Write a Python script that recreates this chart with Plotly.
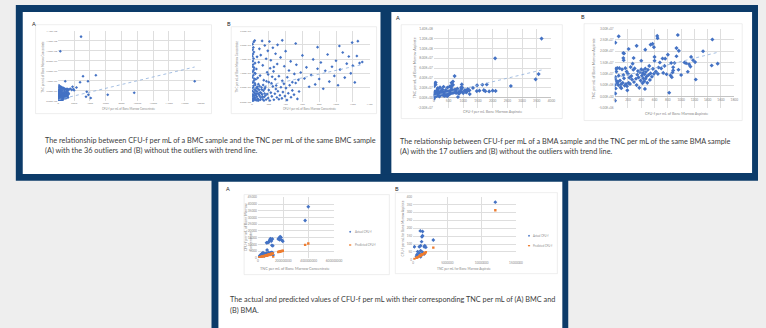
import plotly.graph_objects as go

# ---------------- DATA ----------------
# Figure 1(B): BMC without outliers (CFU-f per mL, TNC per mL in millions)
bmc_clean_cfu = [8,14,20,24,32,36,44,48,56,60,68,74,80,84,92,98,104,112,120,128,136,144,152,160,
 6,12,18,28,38,52,64,76,10,22,34,46,4,16,26,40,8,20,30,6,14,24,10,18,4,12,22,8,16,6,20,32,
 36,52,60,68,80,88,96,104,120,128,140,152,168,180,188,200,208,224,240,248,260,280,288,304,
 168,180,192,200,212,224,236,248,260,272,284,296,308,320,332,344,356,368,380,392,404,416,432,448,464,480,500,520,540,560,
 172,192,216,232,256,276,300,320,340,360,384,400,420,440,460,480,504,528,552,580,600,624,648,680,704,728,752,780,800,
 820,848,872,900,920,952,980,1000,1024,1048,1080,1104,1128,1152,1176,1200,1224,1248,1280,1312,1040,1192,780,520,360,1260,
 2,5,11,17,23,29,35,42,50,58,66,72,82,90,100,108,116,124,132,142,150,158]
bmc_clean_tnc_m = [0.5,1.2,0.8,2.1,1.5,3.0,0.9,2.4,1.8,3.6,1.1,2.9,0.6,4.2,2.0,3.3,1.4,5.0,2.6,0.9,3.9,1.7,4.6,2.2,
 3.8,4.9,5.6,4.4,5.9,4.8,5.3,6.2,6.8,7.4,6.5,7.9,8.6,9.3,8.1,9.9,10.6,11.2,10.1,12.4,13.1,12.0,14.3,15.2,16.0,16.8,17.5,18.3,19.1,20.2,21.0,21.5,
 13.6,11.5,15.8,8.4,13.9,18.6,9.2,16.4,21.4,12.8,7.6,19.8,15.1,10.4,17.9,6.9,21.2,14.6,8.8,19.0,12.2,16.9,5.7,20.0,
 0.8,2.7,1.3,4.1,0.4,3.2,1.9,5.4,0.7,2.8,4.5,1.5,3.7,0.9,2.3,5.1,1.2,3.4,6.3,2.0,4.8,0.6,3.0,5.8,1.6,4.0,2.5,6.6,1.0,3.6,
 7.2,9.6,11.8,6.5,10.7,7.9,13.3,9.0,15.6,7.4,12.5,17.8,8.6,11.0,14.2,6.9,9.8,13.0,7.7,10.3,16.3,8.2,12.1,5.3,9.4,14.9,6.1,11.6,8.0,
 13.8,4.6,10.9,16.6,7.1,12.3,9.1,14.4,5.8,11.3,17.3,8.5,13.4,15.9,10.0,12.7,6.8,16.1,13.6,14.0,19.6,20.8,19.2,20.5,21.6,21.3,
 0.3,1.9,2.6,0.4,3.4,0.9,2.3,4.0,0.5,2.9,4.7,0.3,2.5,5.5,0.7,3.1,4.3,1.8,5.9,0.4,2.9,5.2]
# the 36 BMC outliers (added in figure 1(A))
bmc_out_cfu = [2875,250,875,2750,3125,3750,4750,3600,6250,9600,17250,2000,
 30,70,110,160,210,260,320,380,450,520,600,700,800,950,1100,1300,1500,1700,1900,3500,3800,4100,2300,1800]
bmc_out_tnc_m = [128,99,39,37,49,39,51,18,12,16,39,21,
 27,31,25.8,29.5,26.2,28.1,25.5,27.4,26.0,24.8,25.9,23.5,24.2,22.8,23.9,22.5,24.1,21.8,23.0,8.0,12.0,5.5,26.5,28.0]

# Figure 2(B): BMA without outliers
bma_clean_cfu = [10,60,130,140,210,330,460,540,570,640,645,950,1470,930,965,1330,1075,1120,1550,1460,1220,820,5,
 130,135,285,720,760,800,930,850,400,590,600,660,880,880,870,780,700,
 0,8,15,0,5,10,20,25,30,35,40,50,55,60,70,80,90,95,100,
 110,120,130,140,150,160,170,180,185,190,200,210,220,230,240,250,260,270,280,290,300,
 320,330,340,350,360,370,380,390,400,410,420,425,430,440,445,450,455,460,465,470,480,490,500,510,520,530,540,560,575,590,600,
 620,650,680,730,750,840,860,900,960,1000,1050,1100,1140,1150,1180,1210]
bma_clean_tnc_m = [23.8,26.6,19.2,19.0,21.0,22.4,20.7,22.9,23.3,26.8,25.8,27.2,25.2,21.4,20.2,20.0,14.7,14.2,14.5,13.7,7.5,1.6,-1.9,
 17.0,16.0,17.0,16.8,16.7,18.5,17.8,14.8,15.8,21.8,17.5,12.8,12.9,11.5,10.6,9.8,12.4,
 1.5,1.2,3.5,5.0,7.8,8.6,12.3,11.0,6.8,5.9,12.6,6.5,5.0,9.2,12.5,7.0,4.0,5.4,3.6,
 12.0,6.0,9.5,8.0,4.8,12.5,5.5,11.0,4.5,2.7,10.0,6.0,8.3,5.5,13.0,9.0,7.5,14.5,11.8,6.4,12.4,
 7.8,5.0,9.6,11.2,8.4,3.8,10.7,7.0,12.0,9.2,5.9,10.3,8.0,11.5,6.7,9.8,3.3,12.3,7.8,10.9,8.8,6.0,11.8,9.5,13.5,7.3,10.2,8.7,12.2,10.0,15.8,
 11.0,10.0,15.0,10.4,13.5,9.3,8.5,14.8,11.8,9.5,15.0,10.9,13.2,17.5,16.0,15.2]
# the 17 BMA outliers (added in figure 2(A))
bma_out_cfu = [3664,2084,3563,3462,2620,706,1800,2100,1880,1700,1650,1750,30,60,600,650,2000]
bma_out_tnc_m = [120,80,48,37.5,24,44,27,14,13,15.5,26.5,13.5,29.5,31,30.5,33,14.5]

# Linear trend lines (intercept, slope)
bmc_all_trend = (2.2e6, 3782)
bmc_clean_trend = (4.5e6, 6535)
bma_all_trend = (4.0e6, 14285)
bma_clean_trend = (8.1e6, 7365)

# Figure 3(A): BMC actual vs predicted CFU-f (TNC per mL in millions)
bmc_p_tnc_m = [10,15,20,25,30,35,40,45,50,55,60,65,70,72,75,80,85,90,95,100,105,110,115,120,
 68,78,86,92,96,100,106,110,114,117,
 160,168,172,175,182,188,196, 372,397]
bmc_actual_cfu = [800,1500,2200,600,3000,1800,3800,2500,1200,3200,2800,2000,3500,5800,2600,3300,4000,3000,2400,3600,4100,3000,3800,2200,
 11200,11300,11800,12900,13800,14300,12500,9300,14000,9000,
 14000,14800,13500,15800,15200,13200,12300, 27800,38000]
bmc_pred_cfu = [270,400,540,680,810,950,1080,1220,1350,1490,1620,1760,1890,1940,2030,2160,2300,2430,2570,2700,2840,2970,3110,450,
 1840,2110,2320,2480,2590,2700,2860,2970,3080,3160,
 4320,4540,4640,4730,4910,5080,5290, 9600,10700]

# Figure 3(B): BMA actual vs predicted CFU-f
bma_p_tnc_m = [0.19,0.48,0.57,0.67,0.9,0.9,1.05,1.05,1.1,1.1,1.1,1.24,1.29,1.38,1.38,1.38,1.62,1.62,1.71,1.86,2.95,12.0]
bma_actual_cfu = [83,23,34,52,83,42,183,34,89,58,19,115,146,179,152,48,83,37,89,79,125,365]
bma_pred_cfu = [5,12,15,17,23,23,27,27,29,29,29,32,34,36,36,36,42,42,44,48,77,314]

# Tick values
t1a_x = [0,2000,4000,6000,8000,10000,12000,14000,16000,18000]
t1a_y = [0,2e7,4e7,6e7,8e7,1e8,1.2e8,1.4e8]
t1b_x = [0,200,400,600,800,1000,1200,1400]
t1b_y = [0,5e6,1e7,1.5e7,2e7,2.5e7]
t2a_x = [0,500,1000,1500,2000,2500,3000,3500,4000]
t2a_y = [-2e7,0,2e7,4e7,6e7,8e7,1e8,1.2e8,1.4e8]
t2b_x = [0,200,400,600,800,1000,1200,1400,1600,1800]
t2b_y = [-5e6,0,5e6,1e7,1.5e7,2e7,2.5e7,3e7]
t3a_x = [0,200000000,400000000,600000000]
t3a_y = [0,5000,10000,15000,20000,25000,30000,35000,40000,45000]
t3b_x = [0,5000000,10000000,15000000]
t3b_y = [0,50,100,150,200,250,300,350,400]

# ---------------- STYLE ----------------
W, H = 766, 328
NAVY = "#0c3b69"
BLUE = "#4472C4"
ORANGE = "#ED7D31"
TREND = "#8fb0dc"
GRID = "#dedede"
TICK = "#8a8a8a"
FONT = "Lato"

def fx(px):
    return px / W

def fy(py):
    return 1 - py / H

def sci(v):
    return f"{v:.2E}"

def m(vals):
    return [v * 1e6 for v in vals]

fig = go.Figure()

panels = [
    dict(xd=(58, 202), yd=(29, 100), xr=[0, 18000], xt=t1a_x, xtt=[str(v) for v in t1a_x],
         yr=[0, 1.4e8], yt=t1a_y, ytt=[sci(v) for v in t1a_y], fs=2.6),
    dict(xd=(254, 373), yd=(29, 101), xr=[0, 1400], xt=t1b_x, xtt=[str(v) for v in t1b_x],
         yr=[0, 2.5e7], yt=t1b_y, ytt=[sci(v) for v in t1b_y], fs=2.6),
    dict(xd=(438, 557), yd=(27, 107), xr=[0, 4000], xt=t2a_x, xtt=[str(v) for v in t2a_x],
         yr=[-2e7, 1.4e8], yt=t2a_y, ytt=[sci(v) for v in t2a_y], fs=3.2, zero=True),
    dict(xd=(621, 742), yd=(27, 107), xr=[0, 1800], xt=t2b_x, xtt=[str(v) for v in t2b_x],
         yr=[-5e6, 3e7], yt=t2b_y, ytt=[sci(v) for v in t2b_y], fs=3.2, zero=True),
    dict(xd=(260, 337), yd=(197.7, 259), xr=[0, 6e8], xt=t3a_x, xtt=[str(v) for v in t3a_x],
         yr=[0, 45000], yt=t3a_y, ytt=[str(v) for v in t3a_y], fs=3.2),
    dict(xd=(417, 521), yd=(197, 261), xr=[0, 1.5e7], xt=t3b_x, xtt=[str(v) for v in t3b_x],
         yr=[0, 400], yt=t3b_y, ytt=[str(v) for v in t3b_y], fs=3.0),
]

layout = {}
for i, p in enumerate(panels, start=1):
    xk = "xaxis" if i == 1 else f"xaxis{i}"
    yk = "yaxis" if i == 1 else f"yaxis{i}"
    tf = dict(size=p["fs"], color=TICK, family=FONT)
    layout[xk] = dict(domain=[fx(p["xd"][0]), fx(p["xd"][1])], range=p["xr"],
                      tickmode="array", tickvals=p["xt"], ticktext=p["xtt"],
                      anchor="y" if i == 1 else f"y{i}", showgrid=True, gridcolor=GRID, gridwidth=0.6,
                      zeroline=False, showline=False, ticks="", tickfont=tf, fixedrange=True,
                      showticklabels=not p.get("zero", False))
    layout[yk] = dict(domain=[fy(p["yd"][1]), fy(p["yd"][0])], range=p["yr"],
                      tickmode="array", tickvals=p["yt"], ticktext=p["ytt"],
                      anchor="x" if i == 1 else f"x{i}", showgrid=True, gridcolor=GRID, gridwidth=0.6,
                      zeroline=p.get("zero", False), zerolinecolor="#c4c4c4", zerolinewidth=0.7,
                      showline=False, ticks="", tickfont=tf, fixedrange=True)

# x-axes for figure 2 whose labels sit on the zero line (Excel style)
for k, base, zero_py in [(7, 3, 97.0), (8, 4, 95.6)]:
    p = panels[base - 1]
    layout[f"xaxis{k}"] = dict(overlaying=f"x{base}", anchor="free", position=fy(zero_py),
                               range=p["xr"], tickmode="array", tickvals=p["xt"], ticktext=p["xtt"],
                               showgrid=False, zeroline=False, showline=False, ticks="",
                               tickfont=dict(size=p["fs"], color=TICK, family=FONT), fixedrange=True)

def scatter(x, y, xa, ya, color, symbol="diamond", size=3.0):
    fig.add_trace(go.Scatter(x=x, y=y, xaxis=xa, yaxis=ya, mode="markers",
                             marker=dict(color=color, size=size, symbol=symbol, line=dict(width=0)),
                             showlegend=False, hoverinfo="skip"))

def trend(xvals, coef, xa, ya):
    x0, x1 = min(xvals), max(xvals)
    b, s = coef
    fig.add_trace(go.Scatter(x=[x0, x1], y=[b + s * x0, b + s * x1], xaxis=xa, yaxis=ya,
                             mode="lines", line=dict(color=TREND, width=0.8, dash="dot"),
                             showlegend=False, hoverinfo="skip"))

bmc_all_cfu = bmc_clean_cfu + bmc_out_cfu
bmc_all_tnc = m(bmc_clean_tnc_m + bmc_out_tnc_m)
bma_all_cfu = bma_clean_cfu + bma_out_cfu
bma_all_tnc = m(bma_clean_tnc_m + bma_out_tnc_m)

scatter(bmc_all_cfu, bmc_all_tnc, "x", "y", BLUE, size=2.4)
trend(bmc_all_cfu, bmc_all_trend, "x", "y")
scatter(bmc_clean_cfu, m(bmc_clean_tnc_m), "x2", "y2", BLUE, size=2.4)
trend(bmc_clean_cfu, bmc_clean_trend, "x2", "y2")
scatter(bma_all_cfu, bma_all_tnc, "x3", "y3", BLUE, size=3.2)
trend(bma_all_cfu, bma_all_trend, "x7", "y3")
scatter(bma_clean_cfu, m(bma_clean_tnc_m), "x4", "y4", BLUE, size=3.2)
trend(bma_clean_cfu, bma_clean_trend, "x8", "y4")
scatter(m(bmc_p_tnc_m), bmc_actual_cfu, "x5", "y5", BLUE, size=3.0)
scatter(m(bmc_p_tnc_m), bmc_pred_cfu, "x5", "y5", ORANGE, symbol="square", size=2.4)
scatter(m(bma_p_tnc_m), bma_actual_cfu, "x6", "y6", BLUE, size=3.0)
scatter(m(bma_p_tnc_m), bma_pred_cfu, "x6", "y6", ORANGE, symbol="square", size=2.4)

# ---------------- FRAMES ----------------
shapes = []
def rect(x0, y0, x1, y1, fill=None, line=None, lw=0):
    shapes.append(dict(type="rect", xref="paper", yref="paper", x0=fx(x0), x1=fx(x1), y0=fy(y1), y1=fy(y0),
                       fillcolor=fill if fill else "rgba(0,0,0,0)",
                       line=dict(color=line if line else "rgba(0,0,0,0)", width=lw), layer="below"))

rect(15, 3, 766, 181, fill=NAVY)
rect(213, 175, 574, 330, fill=NAVY)
rect(22, 10, 384, 174, fill="white")
rect(395, 10, 760, 173, fill="white")
rect(220, 182, 568, 330, fill="white")
# chart-area borders
for b in [(35, 23, 213, 113), (233, 25, 380, 113), (405, 23, 568, 118),
          (590, 22, 750, 120), (246, 195, 393, 276), (399, 193, 563, 275)]:
    rect(*b, line="#e2e2e2", lw=0.6)

# legend markers for figure 3
def legend_marker(cx, cy, color, sym):
    r = 1.1
    if sym == "sq":
        shapes.append(dict(type="rect", xref="paper", yref="paper",
                           x0=fx(cx - r), x1=fx(cx + r), y0=fy(cy + r * 0.6), y1=fy(cy - r * 0.6),
                           fillcolor=color, line=dict(width=0), layer="above"))
    else:
        shapes.append(dict(type="path", xref="paper", yref="paper",
                           path=f"M {fx(cx - r)} {fy(cy)} L {fx(cx)} {fy(cy - r)} L {fx(cx + r)} {fy(cy)} L {fx(cx)} {fy(cy + r)} Z",
                           fillcolor=color, line=dict(width=0), layer="above"))

legend_marker(353.3, 232.7, BLUE, "d")
legend_marker(353.3, 246, ORANGE, "sq")
legend_marker(534.3, 236.7, BLUE, "d")
legend_marker(534.3, 246.7, ORANGE, "sq")

# ---------------- TEXT ----------------
ann = []
def text(x, y, s, size, color="#404040", xanchor="left", angle=0, yanchor="middle"):
    ann.append(dict(x=fx(x), y=fy(y), xref="paper", yref="paper", text=s, showarrow=False,
                    xanchor=xanchor, yanchor=yanchor, textangle=angle, align="left",
                    font=dict(size=size, color=color, family=FONT)))

CAP = 7.3
text(42, 140, "The relationship between CFU-f per mL of a BMC sample and the TNC per mL of the same BMC sample", CAP)
text(42, 150.5, "(A) with the 36 outliers and (B) without the outliers with trend line.", CAP)
text(402, 141, "The relationship between CFU-f per mL of a BMA sample and the TNC per mL of the same BMA sample", CAP)
text(402, 151.5, "(A) with the 17 outliers and (B) without the outliers with trend line.", CAP)
text(230, 301, "The actual and predicted values of CFU-f per mL with their corresponding TNC per mL of (A) BMC and", CAP)
text(230, 312, "(B) BMA.", CAP)

# panel letters
text(29, 22.5, "A", 5.5, color="#222222")
text(227, 22.5, "B", 5.5, color="#222222")
text(398, 16, "A", 5.5, color="#222222")
text(585, 15, "B", 5.5, color="#222222")
text(226, 189, "A", 5.5, color="#222222")
text(397, 189, "B", 5.5, color="#222222")

# axis titles
AX = "#8a8a8a"
text(130, 108.5, "CFU-f per mL of Bone Marrow Concentrate", 2.8, AX, xanchor="center")
text(43, 65, "TNC per mL of Bone Marrow Concentrate", 2.8, AX, xanchor="center", angle=-90)
text(313, 108.5, "CFU-f per mL of Bone Marrow Concentrate", 2.8, AX, xanchor="center")
text(239, 65, "TNC per mL of Bone Marrow Concentrate", 2.8, AX, xanchor="center", angle=-90)
text(497, 111, "CFU-f per mL Bone Marrow Aspirate", 3.7, AX, xanchor="center")
text(418, 67, "TNC per mL of Bone Marrow Aspirate", 3.7, AX, xanchor="center", angle=-90)
text(684, 112.5, "CFU-f per mL of Bone Marrow Aspirate", 3.7, AX, xanchor="center")
text(599, 67, "TNC per mL of Bone Marrow Aspirate", 3.7, AX, xanchor="center", angle=-90)
text(298, 269.5, "TNC per mL of Bone Marrow Concentrate", 3.8, AX, xanchor="center")
text(250, 228, "CFU-f per mL of Bone Marrow<br>Concentrate", 3.6, AX, xanchor="center", angle=-90)
text(468, 270, "TNC per mL for Bone Marrow Aspirate", 3.2, AX, xanchor="center")
text(407, 229, "CFU-f per mL for Bone Marrow Aspirate", 3.2, AX, xanchor="center", angle=-90)

# legend text for figure 3
text(356, 232.7, "Actual CFU-f", 2.9, AX)
text(356, 246, "Predicted CFU-f", 2.9, AX)
text(536.5, 236.7, "Actual CFU-f", 2.7, AX)
text(536.5, 246.7, "Predicted CFU-f", 2.7, AX)

fig.update_layout(width=W, height=H, margin=dict(l=0, r=0, t=0, b=0),
                  paper_bgcolor="#eeeeee", plot_bgcolor="white", showlegend=False,
                  shapes=shapes, annotations=ann, font=dict(family=FONT), **layout)

fig.write_html("out.html", config={"displayModeBar": False},
               post_script="document.body.style.margin='0';document.body.style.overflow='hidden';")
